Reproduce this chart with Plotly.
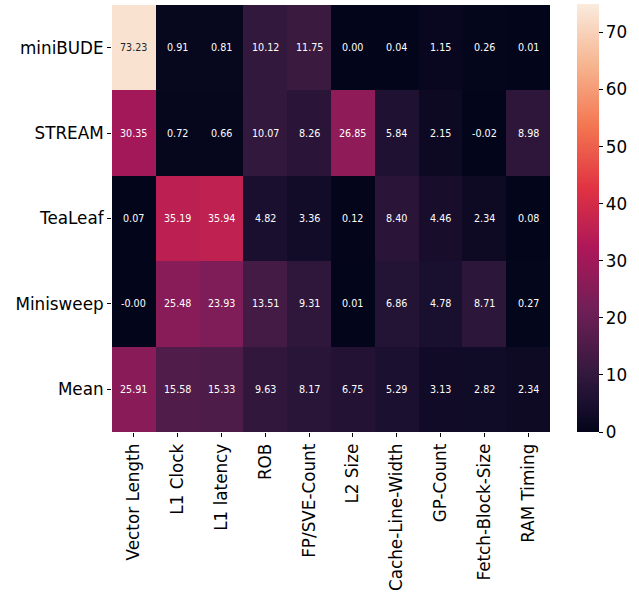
import plotly.graph_objects as go

# Benchmarks (rows) and parameters (columns)
benchmarks = ["miniBUDE", "STREAM", "TeaLeaf", "Minisweep", "Mean"]
parameters = ["Vector Length", "L1 Clock", "L1 latency", "ROB", "FP/SVE-Count",
              "L2 Size", "Cache-Line-Width", "GP-Count", "Fetch-Block-Size", "RAM Timing"]

minibude = [73.23, 0.91, 0.81, 10.12, 11.75, 0.00, 0.04, 1.15, 0.26, 0.01]
stream = [30.35, 0.72, 0.66, 10.07, 8.26, 26.85, 5.84, 2.15, -0.02, 8.98]
tealeaf = [0.07, 35.19, 35.94, 4.82, 3.36, 0.12, 8.40, 4.46, 2.34, 0.08]
minisweep = [-0.0, 25.48, 23.93, 13.51, 9.31, 0.01, 6.86, 4.78, 8.71, 0.27]
mean = [25.91, 15.58, 15.33, 9.63, 8.17, 6.75, 5.29, 3.13, 2.82, 2.34]

z = [minibude, stream, tealeaf, minisweep, mean]

colorbar_ticks = [0, 10, 20, 30, 40, 50, 60, 70]
zmin, zmax = 0, 75

# seaborn "rocket"-style colour scale
rocket = [
    [0.000, "#03051A"],
    [0.071, "#1C1030"],
    [0.143, "#35193E"],
    [0.286, "#701F57"],
    [0.429, "#AD1759"],
    [0.571, "#E13342"],
    [0.714, "#F37651"],
    [0.857, "#F6B48F"],
    [1.000, "#FAEBDD"],
]

FONT = "DejaVu Sans"
LABEL_SIZE = 16.8

fig = go.Figure(go.Heatmap(
    z=z,
    x=parameters,
    y=benchmarks,
    colorscale=rocket,
    zmin=zmin,
    zmax=zmax,
    hoverongaps=False,
    colorbar=dict(
        thickness=22,
        lenmode="pixels",
        len=428,
        y=0,
        yanchor="bottom",
        ypad=0,
        x=1.0616,
        xanchor="left",
        xpad=0,
        outlinewidth=0,
        ticks="outside",
        ticklen=4,
        tickwidth=1,
        tickcolor="#000000",
        tickvals=colorbar_ticks,
        tickfont=dict(family=FONT, size=LABEL_SIZE, color="#000000"),
    ),
))

# Cell annotations
annotations = []
for row_name, row in zip(benchmarks, z):
    for col_name, v in zip(parameters, row):
        annotations.append(dict(
            x=col_name, y=row_name, xref="x", yref="y",
            text=f"{v:.2f}", showarrow=False,
            font=dict(family=FONT, size=9.6,
                      color="#262626" if v > 0.6 * zmax else "#FFFFFF"),
        ))

fig.update_layout(
    width=639,
    height=594,
    margin=dict(l=112, r=89, t=5, b=162, autoexpand=False),
    paper_bgcolor="white",
    plot_bgcolor="white",
    annotations=annotations,
    font=dict(family=FONT, color="#000000"),
)
fig.update_xaxes(
    type="category",
    automargin=False,
    tickangle=-90,
    ticks="outside",
    ticklen=4,
    tickwidth=1,
    tickcolor="#000000",
    tickfont=dict(family=FONT, size=LABEL_SIZE, color="#000000"),
    showgrid=False,
    zeroline=False,
    showline=False,
)
fig.update_yaxes(
    type="category",
    automargin=False,
    autorange="reversed",
    ticks="outside",
    ticklen=4,
    tickwidth=1,
    tickcolor="#000000",
    tickfont=dict(family=FONT, size=LABEL_SIZE, color="#000000"),
    showgrid=False,
    zeroline=False,
    showline=False,
)

fig.write_html("out.html")
